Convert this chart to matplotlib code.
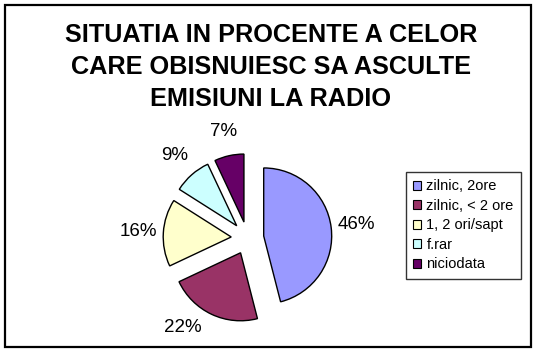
import matplotlib
matplotlib.use("Agg")
import numpy as np
import matplotlib.pyplot as plt
from matplotlib.patches import Rectangle

# data
labels = ["zilnic, 2ore", "zilnic, < 2 ore", "1, 2 ori/sapt", "f.rar", "niciodata"]
values = [46, 22, 16, 9, 7]
colors = ["#9999FF", "#993366", "#FFFFCC", "#CCFFFF", "#660066"]
title = "SITUATIA IN PROCENTE A CELOR\nCARE OBISNUIESC SA ASCULTE\nEMISIUNI LA RADIO"

plt.rcParams["font.family"] = ["Liberation Sans", "DejaVu Sans"]

W, H = 537, 352
fig = plt.figure(figsize=(W / 100, H / 100), dpi=100)

# outer border
fig.patches.append(Rectangle((5 / W, 1 - 347 / H), 526 / W, 342 / H,
                             transform=fig.transFigure, fill=False,
                             edgecolor="black", linewidth=1.6))

fig.text(271 / W, 1 - 67 / H, title, ha="center", va="center",
         multialignment="center", fontsize=18.2, fontweight="bold",
         linespacing=1.4)

# pie axes: centre at (247.5, 238) px, radius 68 px
box = 200
ax = fig.add_axes([(247.5 - box / 2) / W, (H - 238 - box / 2) / H, box / W, box / H])
wedges, texts, autotexts = ax.pie(values, colors=colors, startangle=90,
                                  counterclock=False, explode=[0.24] * 5,
                                  autopct="%1.0f%%", pctdistance=1.37,
                                  wedgeprops=dict(edgecolor="black", linewidth=1),
                                  textprops=dict(fontsize=13.5))
# excel puts the 22% label a bit further round to the left
a = np.deg2rad(-126)
autotexts[1].set_position((1.63 * np.cos(a), 1.63 * np.sin(a)))

lim = box / 2 / 68
ax.set_xlim(-lim, lim)
ax.set_ylim(-lim, lim)
ax.set_aspect("equal")
ax.axis("off")

leg = fig.legend(wedges, labels, loc="upper left",
                 bbox_to_anchor=(406 / W, 1 - 172 / H), borderaxespad=0,
                 fontsize=10.5, frameon=True, fancybox=False, handlelength=0.55,
                 handleheight=0.55, handletextpad=0.35, labelspacing=0.38,
                 borderpad=0.5)
leg.get_frame().set_edgecolor("black")
leg.get_frame().set_linewidth(1)
for h in leg.legend_handles:
    h.set_linewidth(0.8)

fig.savefig("out.png", dpi=100)
